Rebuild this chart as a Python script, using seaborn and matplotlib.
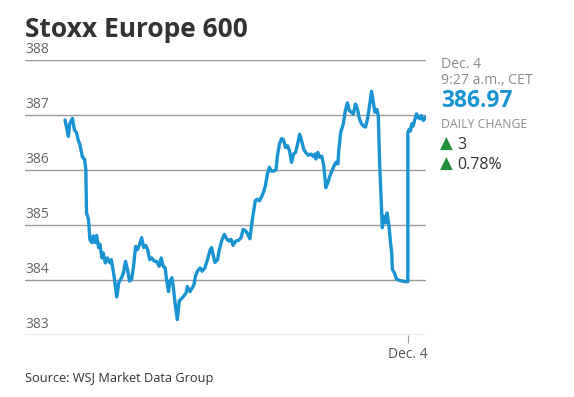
import matplotlib
matplotlib.use('Agg')
import matplotlib.pyplot as plt
import pandas as pd
import seaborn as sns

# minutes since 09:00 CET on Dec. 3 (Dec. 4 session starts at 510)
minutes = [0, 5, 7, 11, 14, 17, 20, 22, 26, 29, 31, 32, 35, 37, 40, 42, 45, 47, 50, 52,
           55, 57, 60, 63, 67, 69, 73, 77, 80, 84, 87, 90, 93, 96, 99, 102, 105, 108, 111, 114,
           117, 120, 123, 126, 129, 133, 136, 140, 143, 146, 149, 151, 154, 156, 159, 161, 164, 167, 170, 174,
           176, 180, 182, 186, 189, 192, 194, 197, 201, 204, 208, 212, 216, 218, 221, 223, 227, 229, 233, 237,
           241, 244, 247, 250, 254, 258, 262, 265, 269, 272, 275, 278, 281, 283, 286, 289, 292, 295, 298, 301,
           304, 307, 311, 314, 316, 319, 322, 325, 328, 331, 334, 337, 340, 343, 346, 349, 352, 355, 358, 362,
           366, 369, 372, 373, 376, 379, 382, 385, 388, 391, 394, 397, 400, 403, 406, 407, 410, 414, 417, 420,
           423, 426, 429, 432, 435, 438, 441, 444, 447, 450, 453, 456, 459, 461, 464, 466, 468, 471, 472, 474,
           477, 479, 482, 484, 486, 487, 490, 493, 498, 506, 510,
           510, 512, 514, 516, 518, 520, 523, 525, 528, 530, 533, 535, 537]
values = [386.91, 386.61, 386.84, 386.94, 386.73, 386.68, 386.53, 386.47, 386.23, 386.20, 386.01, 385.22, 385.10, 384.74, 384.68, 384.80, 384.68, 384.81, 384.59, 384.65,
          384.40, 384.49, 384.31, 384.40, 384.31, 384.37, 384.07, 383.69, 383.95, 384.04, 384.13, 384.34, 384.19, 383.98, 384.01, 384.25, 384.61, 384.55, 384.65, 384.77,
          384.59, 384.63, 384.55, 384.37, 384.40, 384.34, 384.34, 384.25, 384.40, 384.25, 384.22, 384.01, 383.79, 383.98, 384.04, 383.89, 383.55, 383.28, 383.62, 383.67,
          383.70, 383.76, 383.88, 383.79, 383.85, 383.92, 384.07, 384.16, 384.22, 384.16, 384.22, 384.37, 384.55, 384.59, 384.43, 384.32, 384.37, 384.52, 384.71, 384.83,
          384.74, 384.71, 384.74, 384.63, 384.71, 384.72, 384.77, 384.92, 384.89, 384.83, 384.75, 385.04, 385.28, 385.44, 385.47, 385.44, 385.50, 385.59, 385.71, 385.92,
          386.05, 385.98, 385.98, 386.01, 386.26, 386.47, 386.57, 386.55, 386.41, 386.44, 386.35, 386.14, 386.29, 386.32, 386.47, 386.65, 386.53, 386.38, 386.32, 386.27,
          386.29, 386.25, 386.29, 386.20, 386.32, 386.23, 386.25, 386.07, 385.68, 385.77, 385.89, 385.98, 386.07, 386.14, 386.11, 386.32, 386.68, 386.84, 387.08, 387.22,
          387.08, 387.05, 387.02, 387.20, 387.11, 386.93, 386.84, 386.80, 386.78, 386.93, 387.17, 387.43, 387.20, 387.05, 387.10, 386.99, 386.14, 385.22, 384.95, 385.16,
          385.04, 385.22, 384.98, 384.71, 384.49, 384.19, 384.13, 384.02, 383.99, 383.97, 383.97,
          386.68, 386.74, 386.71, 386.84, 386.80, 386.90, 387.02, 386.96, 386.93, 386.99, 386.90, 386.93, 386.97]

y_ticks = [383, 384, 385, 386, 387, 388]
x_tick_pos = [510]
x_tick_labels = ['Dec. 4']

title = 'Stoxx Europe 600'
asof_date = 'Dec. 4'
asof_time = '9:27 a.m., CET'
last_value = '386.97'
change_pts = '3'
change_pct = '0.78%'
source = 'Source: WSJ Market Data Group'

BLUE = '#1a93d3'
GRID = '#9a9a9a'
GREY = '#8c8c8c'
DARK = '#333333'
GREEN = '#1f8f3a'

sns.set_theme(style='white')
plt.rcParams['font.family'] = ['Open Sans', 'DejaVu Sans']

df = pd.DataFrame({'minute': minutes, 'value': values})

W, H = 574, 397
fig = plt.figure(figsize=(W / 100, H / 100), dpi=100)
ax = fig.add_axes([25 / W, 1 - 335 / H, 401 / W, 275 / H])

sns.lineplot(data=df, x='minute', y='value', estimator=None, sort=False,
             color=BLUE, linewidth=2.4, ax=ax)

ax.set_xlim(-59.5, 537)
ax.set_ylim(383, 388)
ax.set_yticks(y_ticks)
ax.yaxis.grid(True, color=GRID, linewidth=1)
ax.xaxis.grid(False)
ax.tick_params(axis='y', left=False, labelleft=False)
ax.set_xticks(x_tick_pos)
ax.set_xticklabels(x_tick_labels)
ax.tick_params(axis='x', bottom=True, length=6, width=0.8, color=GRID, pad=2.5,
               labelsize=10, labelcolor='#555555')
for s in ax.spines.values():
    s.set_visible(False)
ax.set_xlabel('')
ax.set_ylabel('')

for t in y_ticks:
    ax.annotate(str(t), xy=(0, t), xycoords=('axes fraction', 'data'),
                xytext=(0.5, 2.0), textcoords='offset points', ha='left', va='bottom',
                fontsize=10, color='#666666')


def put(x, y, s, **kw):
    fig.text(x / W, 1 - y / H, s, va='baseline', ha='left', **kw)


put(25, 37, title, fontsize=19, fontweight='bold', color=DARK)
put(441, 68.5, asof_date, fontsize=10.2, color=GREY)
put(441, 83.5, asof_time, fontsize=10.2, color=GREY)
put(441, 106.5, last_value, fontsize=16.5, fontweight='bold', color=BLUE)
put(441, 127.5, 'DAILY CHANGE', fontsize=8.8, color=GREY)
put(440, 148.5, '\u25b2', fontsize=12, color=GREEN, family=['DejaVu Sans'])
put(457, 148.5, change_pts, fontsize=11.5, color=DARK)
put(440, 168.5, '\u25b2', fontsize=12, color=GREEN, family=['DejaVu Sans'])
put(457, 168.5, change_pct, fontsize=11.5, color=DARK)
put(25, 382, source, fontsize=9.2, color=DARK)

fig.savefig('out.png', dpi=100)
